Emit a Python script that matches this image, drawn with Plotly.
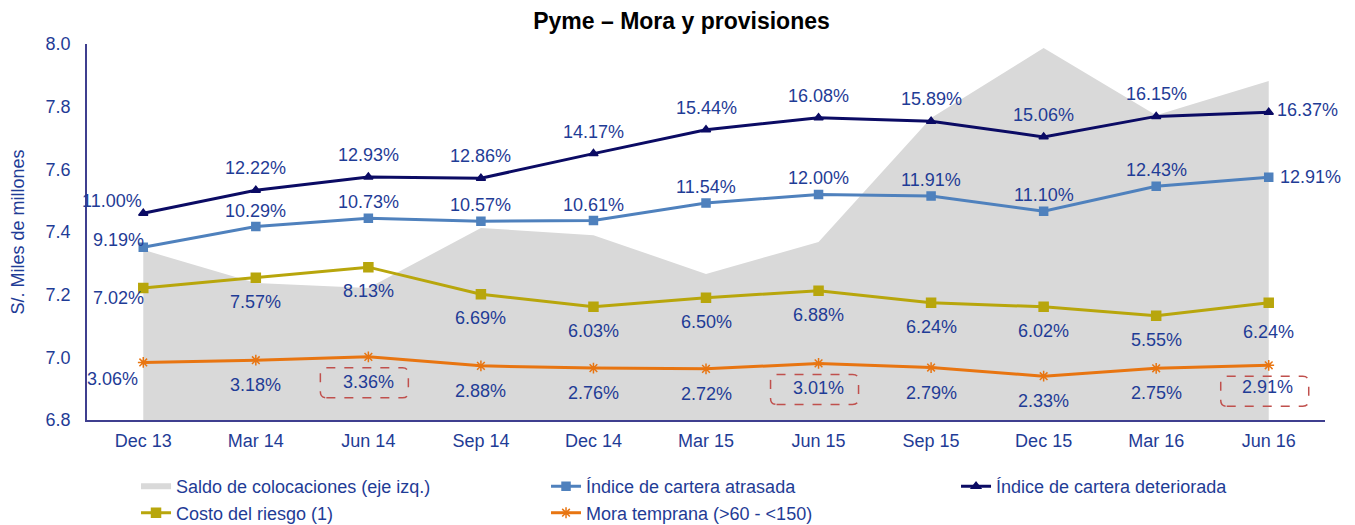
import plotly.graph_objects as go

# periods on the x axis
periods = ["Dec 13", "Mar 14", "Jun 14", "Sep 14", "Dec 14", "Mar 15",
           "Jun 15", "Sep 15", "Dec 15", "Mar 16", "Jun 16"]

# Saldo de colocaciones, S/. miles de millones (left axis)
saldo = [7.343, 7.237, 7.221, 7.413, 7.390, 7.266, 7.368, 7.764, 7.987, 7.773, 7.882]

# ratios in %, hidden right axis
atrasada = [9.19, 10.29, 10.73, 10.57, 10.61, 11.54, 12.00, 11.91, 11.10, 12.43, 12.91]
deteriorada = [11.00, 12.22, 12.93, 12.86, 14.17, 15.44, 16.08, 15.89, 15.06, 16.15, 16.37]
costo = [7.02, 7.57, 8.13, 6.69, 6.03, 6.50, 6.88, 6.24, 6.02, 5.55, 6.24]
mora = [3.06, 3.18, 3.36, 2.88, 2.76, 2.72, 3.01, 2.79, 2.33, 2.75, 2.91]

# mora temprana points that get a dashed box
highlight = ["Jun 14", "Jun 15", "Jun 16"]

LABEL_BLUE = "#1F3C96"
AXIS_BLUE = "#3F3F8F"
FONT = "Liberation Sans, Arial, sans-serif"

fig = go.Figure()

fig.add_trace(go.Scatter(
    x=periods, y=saldo, mode="none", fill="tozeroy",
    fillcolor="#D9D9D9", name="Saldo de colocaciones (eje izq.)",
    yaxis="y"
))

series = [
    ("Índice de cartera atrasada", atrasada, "#4F81BD", "square", 8, 3),
    ("Índice de cartera deteriorada", deteriorada, "#0B0B64", "triangle-up", 8, 3),
    ("Costo del riesgo (1)", costo, "#B8A60C", "square", 9, 3),
    ("Mora temprana (>60 - <150)", mora, "#E87511", "asterisk-open", 9, 3),
]
for name, vals, color, symbol, msize, lw in series:
    fig.add_trace(go.Scatter(
        x=periods, y=vals, mode="lines+markers", name=name, yaxis="y2",
        line=dict(color=color, width=lw),
        marker=dict(symbol=symbol, size=msize, color=color,
                    line=dict(color=color, width=1.5))
    ))

# label offsets (px): default, first point, last point
offsets = {
    "atrasada": ((0, 16), (-25, 7), (42, 0)),
    "deteriorada": ((0, 22), (-31, 12), (39, 2)),
    "costo": ((0, -24), (-25, -10), (0, -29)),
    "mora": ((0, -25), (-31, -17), (-1, -22)),
}
label_sets = [("atrasada", atrasada), ("deteriorada", deteriorada),
              ("costo", costo), ("mora", mora)]

annotations = []
for key, vals in label_sets:
    default, first, last = offsets[key]
    for i, (p, v) in enumerate(zip(periods, vals)):
        dx, dy = default
        if i == 0:
            dx, dy = first
        elif i == len(vals) - 1:
            dx, dy = last
        annotations.append(dict(
            x=p, y=v, xref="x", yref="y2", text=f"{v:.2f}%",
            showarrow=False, xshift=dx, yshift=dy,
            font=dict(family=FONT, size=18, color=LABEL_BLUE)
        ))

# dashed rounded boxes around selected mora labels
shapes = []
w, h, r = 88, 30, 6
cx, cy = -4, -26
x0, x1 = cx - w / 2, cx + w / 2
y0, y1 = cy - h / 2, cy + h / 2
box_path = (f"M {x0 + r},{y0} L {x1 - r},{y0} Q {x1},{y0} {x1},{y0 + r} "
            f"L {x1},{y1 - r} Q {x1},{y1} {x1 - r},{y1} L {x0 + r},{y1} "
            f"Q {x0},{y1} {x0},{y1 - r} L {x0},{y0 + r} Q {x0},{y0} {x0 + r},{y0} Z")
for p in highlight:
    v = mora[periods.index(p)]
    shapes.append(dict(
        type="path", xref="x", yref="y2", xsizemode="pixel", ysizemode="pixel",
        xanchor=p, yanchor=v, path=box_path,
        line=dict(color="#C0504D", width=1.5, dash="dash")
    ))

fig.update_layout(
    width=1347, height=517,
    margin=dict(l=79, r=30, t=36, b=105, autoexpand=False),
    paper_bgcolor="white", plot_bgcolor="white",
    title=dict(text="<b>Pyme – Mora y provisiones</b>", x=0.5, xanchor="center",
               y=0.975, yanchor="middle",
               font=dict(family=FONT, size=23, color="black")),
    font=dict(family=FONT, color=LABEL_BLUE),
    xaxis=dict(
        type="category", range=[-0.5, len(periods) - 0.5],
        showline=True, linecolor=AXIS_BLUE, linewidth=1.5,
        showgrid=False, ticks="", ticklabelstandoff=4,
        tickfont=dict(size=18, color=LABEL_BLUE)
    ),
    yaxis=dict(
        range=[6.8, 8.0], dtick=0.2, tickformat=".1f",
        showline=True, linecolor=AXIS_BLUE, linewidth=1.5,
        showgrid=False, zeroline=False, ticks="", ticklabelstandoff=11,
        tickfont=dict(size=18, color=LABEL_BLUE),
        title=dict(text="S/. Miles de millones", standoff=19,
                   font=dict(size=18, color=LABEL_BLUE))
    ),
    yaxis2=dict(range=[0, 20], overlaying="y", side="right", visible=False),
    legend=dict(
        orientation="h", x=0.0396, xanchor="left", y=-0.128, yanchor="top",
        entrywidth=365, traceorder="normal", tracegroupgap=0,
        font=dict(family=FONT, size=18, color=LABEL_BLUE),
        bgcolor="rgba(0,0,0,0)"
    ),
    annotations=annotations,
    shapes=shapes,
    showlegend=True,
)

fig.write_html("out.html")
